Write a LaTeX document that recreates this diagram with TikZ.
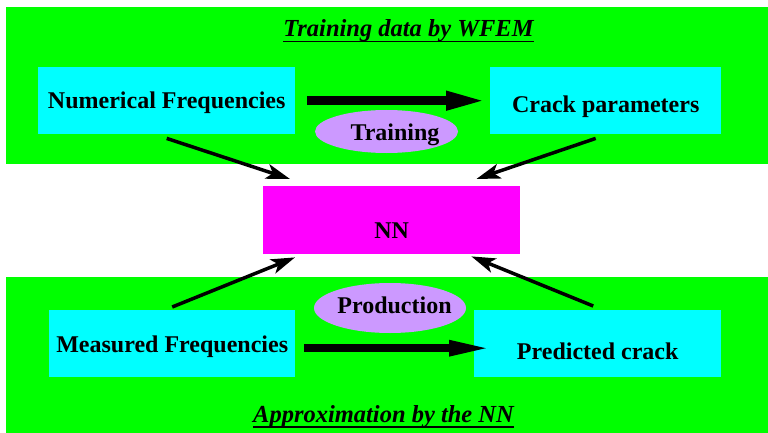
\documentclass[tikz,border=0pt]{standalone}
\usepackage{fontspec}
\setmainfont{Liberation Serif}
\usetikzlibrary{arrows.meta,shapes.geometric,calc}
\definecolor{bggreen}{RGB}{0,255,0}
\definecolor{boxcyan}{RGB}{0,255,255}
\definecolor{nnmag}{RGB}{255,0,255}
\definecolor{lav}{RGB}{204,153,255}
\begin{document}
\begin{tikzpicture}[x=1pt,y=-1pt,
  font=\fontsize{24}{28}\selectfont\bfseries,
  panel/.style={rectangle, fill=bggreen, inner sep=0pt, anchor=north west},
  box/.style={rectangle, fill=boxcyan, inner sep=0pt, anchor=north west},
  nnbox/.style={rectangle, fill=nnmag, inner sep=0pt, anchor=north west},
  oval/.style={ellipse, fill=lav, inner sep=0pt},
  lbl/.style={inner sep=0pt, anchor=base},
  title/.style={inner sep=0pt, anchor=base, font=\fontsize{24.5}{28}\selectfont\bfseries\itshape},
  uline/.style={line width=1.8pt},
  bigarrow/.style={line width=9pt, -{Triangle[length=42pt,width=17pt]}},
  bigarrowb/.style={line width=8pt, -{Triangle[length=45pt,width=14pt]}},
  thinarrow/.style={line width=3.5pt, -{Stealth[length=24pt,width=15pt,inset=6pt]}}
]
\useasboundingbox (0,0) rectangle (768,433);
\fill[white] (0,0) rectangle (768,433);
% panels
\node[panel, minimum width=762pt, minimum height=157pt] (toppanel) at (6,7) {};
\node[panel, minimum width=762pt, minimum height=156pt] (botpanel) at (6,277) {};
% titles
\node[title] (ttop) at (408.5,36.5) {Training data by WFEM};
\draw[uline] ($(ttop.base west)+(0,5)$) -- ($(ttop.base east)+(0,5)$);
\node[title] (tbot) at (383.5,422) {Approximation by the NN};
\draw[uline] ($(tbot.base west)+(0,5)$) -- ($(tbot.base east)+(0,5)$);
% boxes
\node[box, minimum width=257pt, text height=41pt, text depth=26pt] (numf) at (38,67) {Numerical Frequencies};
\node[box, minimum width=231pt, text height=45pt, text depth=22pt] (crack) at (490,67) {Crack parameters};
\node[nnbox, minimum width=257pt, text height=52pt, text depth=16pt] (nn) at (263,186) {NN};
\node[box, minimum width=246pt, text height=42pt, text depth=25pt] (meas) at (49,310) {Measured Frequencies};
\node[box, minimum width=247pt, text height=49pt, text depth=18pt] (pred) at (474,310) {Predicted crack};
% ellipses
\node[oval, minimum width=143pt, minimum height=43pt] (trainell) at (386.5,131.5) {};
\node[lbl] (train) at (395,140) {Training};
\node[oval, minimum width=152pt, minimum height=50pt] (prodell) at (390,308) {};
\node[lbl] (prod) at (394.5,313) {Production};
% arrows
\draw[bigarrow] ($(numf.east)+(12,0)$) -- ($(crack.west)+(-2,0)$);
\draw[bigarrowb] ($(meas.east)+(9,4.5)$) -- ($(pred.west)+(20,4.5)$);
\draw[thinarrow] ($(numf.south)+(0,4)$) -- ($(nn.north west)+(27,-7)$);
\draw[thinarrow] ($(crack.south)+(-10,4)$) -- ($(nn.north east)+(-44,-7)$);
\draw[thinarrow] ($(meas.north)+(0,-3)$) -- ($(nn.south west)+(32,3)$);
\draw[thinarrow] ($(pred.north)+(-4.5,-4)$) -- ($(nn.south east)+(-49,2)$);
\end{tikzpicture}
\end{document}
